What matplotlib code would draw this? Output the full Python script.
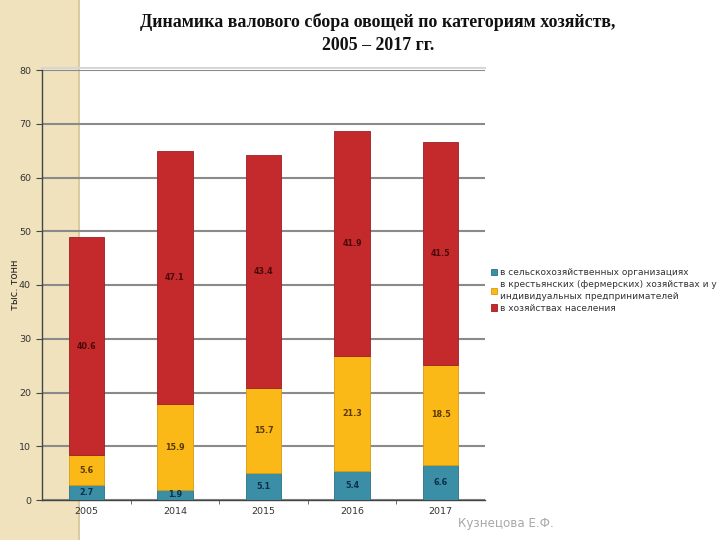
import matplotlib
matplotlib.use("Agg")
import matplotlib.pyplot as plt
from matplotlib.patches import Rectangle
import numpy as np

years = ["2005", "2014", "2015", "2016", "2017"]
agri_orgs = [2.7, 1.9, 5.1, 5.4, 6.6]
farmers = [5.6, 15.9, 15.7, 21.3, 18.5]
households = [40.6, 47.1, 43.4, 41.9, 41.5]
series_names = [
    "в сельскохозяйственных организациях",
    "в крестьянских (фермерских) хозяйствах и у\nиндивидуальных предпринимателей",
    "в хозяйствах населения",
]
y_ticks = [0, 10, 20, 30, 40, 50, 60, 70, 80]

colors = ["#3a8ea6", "#fbb918", "#c4292c"]
edge_colors = ["#2c6f82", "#d89a10", "#9c1f22"]
label_colors = ["#0e2f4a", "#5a3a00", "#4a0808"]

fig = plt.figure(figsize=(7.2, 5.4), dpi=100)
fig.patch.set_facecolor("white")

# background axes with the beige stripe
bg = fig.add_axes([0, 0, 1, 1], zorder=-10)
bg.set_xlim(0, 720)
bg.set_ylim(540, 0)
bg.axis("off")
bg.add_patch(Rectangle((0, 0), 80, 540, facecolor="#efe2bd", edgecolor="none"))
bg.add_patch(Rectangle((78, 0), 2, 540, facecolor="#dccba0", edgecolor="none"))
bg.plot([42, 485], [67.5, 67.5], color="#d6d6d6", linewidth=1.5)

ax = fig.add_axes([42 / 720, 1 - 500 / 540, 443 / 720, 430 / 540], zorder=1)
ax.set_facecolor("none")

x = np.arange(len(years))
width = 0.4
bottom = np.zeros(len(years))
bars_list = []
for vals, c, ec, lc, name in zip([agri_orgs, farmers, households], colors, edge_colors,
                                  label_colors, series_names):
    vals = np.array(vals)
    bars = ax.bar(x, vals, width, bottom=bottom, color=c, edgecolor=ec, linewidth=0.6,
                  label=name, zorder=3)
    bars_list.append(bars)
    for xi, b, v in zip(x, bottom, vals):
        ax.text(xi, b + v / 2, f"{v:.1f}", ha="center", va="center", fontsize=5.8,
                fontweight="bold", color=lc, zorder=4)
    bottom = bottom + vals

ax.set_xlim(-0.5, len(years) - 0.5)
ax.set_ylim(0, 80)
ax.set_yticks(y_ticks)
ax.set_yticklabels([str(t) for t in y_ticks], fontsize=6.8, color="#333333")
ax.set_xticks(x)
ax.set_xticklabels(years, fontsize=6.8, color="#333333")
ax.tick_params(axis="x", length=0, pad=5)
ax.set_xticks(np.arange(0.5, len(years) - 0.5, 1), minor=True)
ax.tick_params(axis="x", which="minor", length=3, color="#555555", direction="out")
ax.tick_params(axis="y", length=4, color="#444444", pad=4)

ax.yaxis.grid(True, color="#8a8a8a", linewidth=1.5, zorder=1)
ax.set_axisbelow(True)
for s in ["top", "right"]:
    ax.spines[s].set_visible(False)
ax.spines["left"].set_color("#444444")
ax.spines["bottom"].set_color("#444444")
ax.spines["left"].set_linewidth(1)
ax.spines["bottom"].set_linewidth(1)

fig.text(15 / 720, 1 - 285 / 540, "тыс. тонн", rotation=90, ha="center", va="center",
         fontsize=7.2, color="#222222")

leg = fig.legend(handles=bars_list, labels=series_names, loc="upper left",
                 bbox_to_anchor=(491 / 720, 1 - 268 / 540), frameon=False, fontsize=6.5,
                 handlelength=0.7, handleheight=0.7, handletextpad=0.3,
                 labelspacing=0.35, borderaxespad=0, borderpad=0)
for t in leg.get_texts():
    t.set_color("#333333")
    t.set_linespacing(1.35)

fig.text(378 / 720, 1 - 22 / 540, "Динамика валового сбора овощей по категориям хозяйств,",
         ha="center", va="center", fontsize=12.9, fontweight="bold",
         family="Liberation Serif", color="#111111")
fig.text(378 / 720, 1 - 45 / 540, "2005 – 2017 гг.", ha="center", va="center",
         fontsize=12.9, fontweight="bold", family="Liberation Serif", color="#111111")

fig.text(458 / 720, 1 - 524 / 540, "Кузнецова Е.Ф.", ha="left", va="center",
         fontsize=8.6, color="#a8a8a8")

fig.savefig("out.png", dpi=100)
